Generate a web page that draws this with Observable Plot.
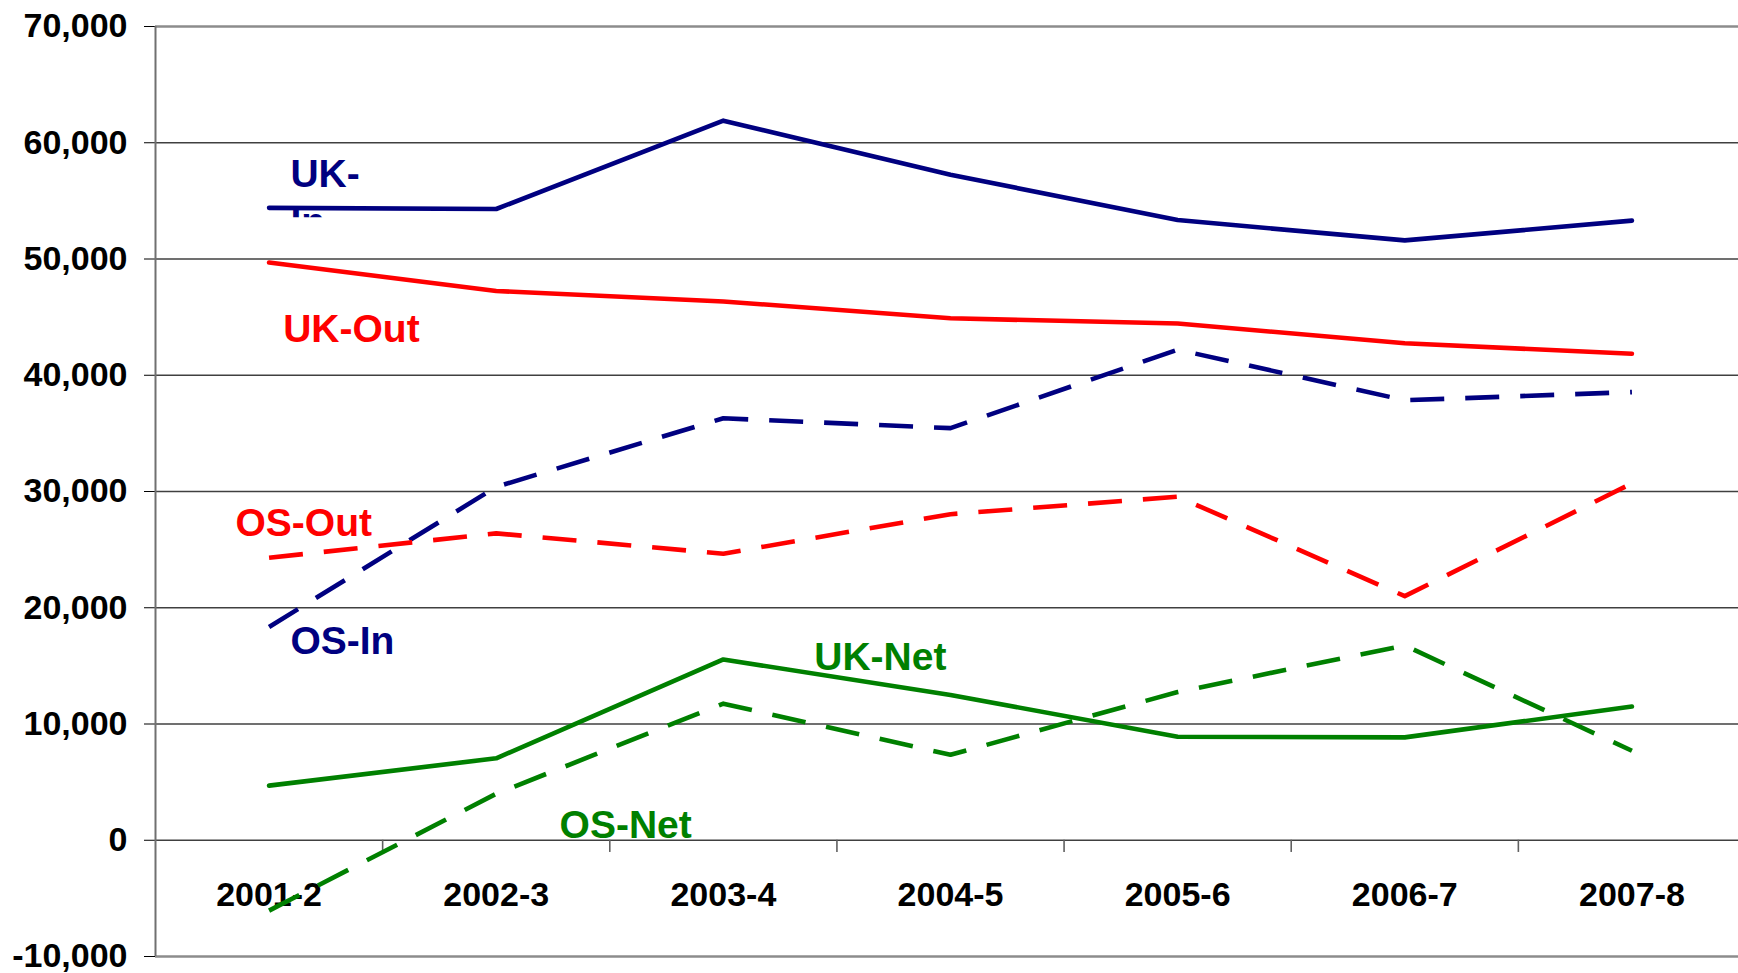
<!DOCTYPE html>
<html><head><meta charset="utf-8">
<script src="https://cdn.jsdelivr.net/npm/d3@7"></script>
<script src="https://cdn.jsdelivr.net/npm/@observablehq/plot@0.6"></script>
<style>html,body{margin:0;padding:0;background:#fff;overflow:hidden}</style>
</head><body><div id="chart"></div>
<script>
const categories = ["2001-2","2002-3","2003-4","2004-5","2005-6","2006-7","2007-8"];
const ukIn   = [54400, 54300, 61900, 57250, 53350, 51600, 53300];
const ukOut  = [49700, 47250, 46350, 44900, 44450, 42750, 41850];
const osIn   = [18350, 30400, 36300, 35450, 42200, 37850, 38550];
const osOut  = [24300, 26400, 24650, 28050, 29550, 21000, 30700];
const ukNet  = [4700, 7050, 15550, 12500, 8900, 8850, 11500];
const osNet  = [-6050, 4000, 11750, 7350, 12750, 16750, 7700];

const seriesNames  = ["UK-In","UK-Out","OS-In","OS-Out","UK-Net","OS-Net"];
const seriesValues = [ukIn, ukOut, osIn, osOut, ukNet, osNet];
const seriesColors = ["#000080","#ff0000","#000080","#ff0000","#008000","#008000"];
const seriesDashed = [false, false, true, true, false, true];

const yTicks = [-10000, 0, 10000, 20000, 30000, 40000, 50000, 60000, 70000];
const yTickLabels = ["-10,000","0","10,000","20,000","30,000","40,000","50,000","60,000","70,000"];

// in-chart series labels (x = category index, y = value)
const labelText  = ["UK-","In","UK-Out","OS-Out","OS-In","UK-Net","OS-Net"];
const labelX     = [0.094, 0.094, 0.062, -0.148, 0.094, 2.40, 1.279];
const labelY     = [56230, 52100, 42830, 26200, 16040, 14660, 230];
const labelColor = ["#000080","#000080","#ff0000","#ff0000","#000080","#008000","#008000"];
const inClipValue = 53600;

const rows = seriesNames.flatMap((s, k) => seriesValues[k].map((v, i) => ({
  series: s, i, value: v, color: seriesColors[k], dashed: seriesDashed[k]
})));
const labels = labelText.map((t, k) => ({t, x: labelX[k], y: labelY[k], c: labelColor[k]}));
const boundaries = categories.slice(1).map((_, i) => i + 0.5);
const innerGrid = yTicks.slice(1, -1);

const font = "'Liberation Sans', Arial, Helvetica, sans-serif";

const plot = Plot.plot({
  width: 1738,
  height: 973,
  marginLeft: 155,
  marginRight: 0,
  marginTop: 26,
  marginBottom: 17,
  style: {fontFamily: font, fontSize: "34px", fontWeight: "bold", color: "#000", background: "#fff"},
  x: {domain: [-0.5, 6.5], range: [155, 1745], axis: null},
  y: {domain: [-10000, 70000], ticks: yTicks, tickFormat: d => yTickLabels[yTicks.indexOf(d)],
      tickSize: 11, tickPadding: 17, label: null},
  color: {type: "identity"},
  marks: [
    Plot.ruleY(innerGrid, {stroke: "#404040", strokeWidth: 1.4}),
    Plot.ruleY([yTicks[0], yTicks[yTicks.length - 1]], {stroke: "#8c8c8c", strokeWidth: 2.6}),
    Plot.ruleX([-0.5], {stroke: "#707070", strokeWidth: 2}),
    Plot.ruleX(boundaries, {x: d => d, y1: 0, y2: -1050, stroke: "#606060", strokeWidth: 1.6}),
    Plot.text(categories, {x: (d, i) => i, y: 0, text: d => d, dy: 55, fontSize: 34, fontWeight: "bold", fill: "#000"}),
    Plot.text(labels, {x: "x", y: "y", text: "t", fill: "c", textAnchor: "start", lineAnchor: "bottom",
      fontSize: 39, fontWeight: "bold"}),
    Plot.line(rows.filter(d => !d.dashed), {x: "i", y: "value", z: "series", stroke: "color",
      strokeWidth: 4.6, strokeLinecap: "round", strokeLinejoin: "round"}),
    Plot.line(rows.filter(d => d.dashed), {x: "i", y: "value", z: "series", stroke: "color",
      strokeWidth: 4.6, strokeDasharray: "34,21", strokeLinecap: "butt", strokeLinejoin: "round"})
  ]
});

// clip the partly hidden "In" of the UK-In label, as in the original
const svg = d3.select(plot.tagName === "svg" ? plot : plot.querySelector("svg"));
const yScale = plot.scale("y");
const clipH = yScale.apply(inClipValue);
svg.append("defs").append("clipPath").attr("id", "inclip")
  .append("rect").attr("x", 0).attr("y", 0).attr("width", 1738).attr("height", clipH);
svg.selectAll("text").filter(function () { return this.textContent === "In"; })
  .each(function () {
    const g = document.createElementNS("http://www.w3.org/2000/svg", "g");
    this.parentNode.insertBefore(g, this);
    g.appendChild(this);
    g.setAttribute("clip-path", "url(#inclip)");
  });

document.getElementById("chart").appendChild(plot);
</script>
</body></html>
